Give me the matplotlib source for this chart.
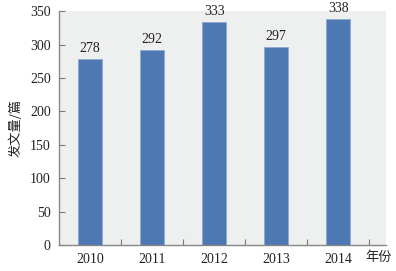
import matplotlib
matplotlib.use("Agg")
import matplotlib.pyplot as plt

years = ["2010", "2011", "2012", "2013", "2014"]
counts = [278, 292, 333, 297, 338]
yticks = [0, 50, 100, 150, 200, 250, 300, 350]
xlabel = "年份"
ylabel = "发文量/篇"

plt.rcParams['font.family'] = ['Liberation Serif', 'Noto Sans CJK SC']

fig = plt.figure(figsize=(3.96, 2.71), dpi=100)
ax = fig.add_axes([0.149, 0.096, 0.826, 0.863])
ax.set_facecolor('#eeefef')

x = list(range(len(years)))
ax.bar(x, counts, width=0.39, color='#4d78b2', edgecolor='#8fa9cf', linewidth=0.6, zorder=2)
for xi, v in zip(x, counts):
    ax.text(xi, v + 6, str(v), ha='center', va='bottom', fontsize=10, color='#222222')

ax.set_xlim(-0.5, 4.77)
ax.set_ylim(0, 350)
ax.set_yticks(yticks)
ax.set_yticklabels([str(t) for t in yticks], fontsize=10, color='#222222')
ax.set_xticks([i + 0.5 for i in range(len(years))])
ax.set_xticklabels([])
ax.set_xticks(x, minor=True)
ax.set_xticklabels(years, minor=True, fontsize=10, color='#222222')
ax.tick_params(axis='x', which='minor', length=0, pad=6)
ax.tick_params(axis='x', which='major', direction='in', length=4, color='#777777', width=0.8)
ax.tick_params(axis='y', direction='in', length=4, color='#777777', width=0.8, pad=6)

for s in ['top', 'right']:
    ax.spines[s].set_visible(False)
for s in ['left', 'bottom']:
    ax.spines[s].set_color('#888888')
    ax.spines[s].set_linewidth(1.0)

ax.set_ylabel(ylabel, family=['Noto Sans CJK SC'], fontsize=9.5, color='#222222', labelpad=5)
fig.text(0.99, 0.048, xlabel, family=['Noto Sans CJK SC'], fontsize=9.5, ha='right', va='center', color='#222222')

fig.savefig('out.png', dpi=100)
